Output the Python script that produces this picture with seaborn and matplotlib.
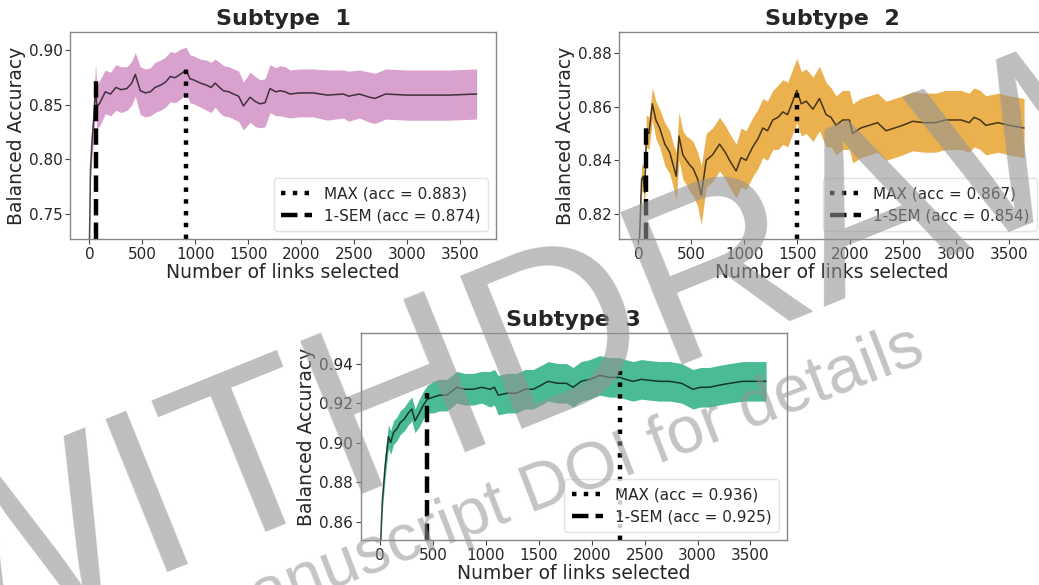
import numpy as np
import matplotlib
matplotlib.use("Agg")
import matplotlib.pyplot as plt
import seaborn as sns

# ---- data ----
# Subtype 1
x1 = [0, 10, 25, 40, 58, 70, 100, 150, 200, 250, 300, 355, 400, 434, 481, 530, 575, 620, 670, 720,
      764, 810, 858, 915, 950, 984, 1050, 1110, 1150, 1189, 1230, 1267, 1320, 1362, 1410, 1456, 1519, 1570, 1613, 1660,
      1707, 1760, 1802, 1850, 1896, 1990, 2116, 2250, 2400, 2450, 2550, 2650, 2700, 2800, 3000, 3200, 3400, 3660]
acc1 = [0.72, 0.79, 0.818, 0.835, 0.868, 0.848, 0.852, 0.862, 0.860, 0.866, 0.864, 0.865, 0.870, 0.878, 0.863, 0.861, 0.862, 0.866, 0.868, 0.871,
        0.876, 0.875, 0.878, 0.882, 0.874, 0.873, 0.870, 0.868, 0.866, 0.870, 0.866, 0.863, 0.862, 0.860, 0.858, 0.849, 0.857, 0.853, 0.851, 0.852,
        0.865, 0.862, 0.863, 0.862, 0.860, 0.861, 0.861, 0.859, 0.860, 0.858, 0.860, 0.857, 0.856, 0.860, 0.859, 0.859, 0.859, 0.860]
sd1 = [0.005, 0.01, 0.015, 0.018, 0.02, 0.02, 0.021, 0.02, 0.02, 0.021, 0.021, 0.02, 0.02, 0.02, 0.022, 0.022, 0.022, 0.023, 0.023, 0.023,
       0.023, 0.023, 0.023, 0.021, 0.022, 0.022, 0.022, 0.023, 0.023, 0.022, 0.023, 0.023, 0.023, 0.023, 0.023, 0.022, 0.023, 0.023, 0.022, 0.022,
       0.022, 0.022, 0.023, 0.023, 0.022, 0.022, 0.022, 0.023, 0.022, 0.023, 0.022, 0.023, 0.023, 0.023, 0.023, 0.023, 0.023, 0.023]

# Subtype 2
x2 = [0, 12, 30, 44, 60, 75, 100, 132, 165, 201, 250, 296, 330, 358, 384, 420, 453, 490, 516, 560,
      594, 641, 700, 767, 820, 861, 924, 970, 1018, 1081, 1130, 1176, 1220, 1270, 1320, 1365, 1410, 1459, 1497, 1540,
      1585, 1650, 1711, 1774, 1820, 1868, 1930, 1994, 2025, 2100, 2182, 2260, 2340, 2420, 2497, 2591, 2700, 2811, 2900, 2969,
      3050, 3126, 3173, 3230, 3283, 3400, 3503, 3645]
acc2 = [0.805, 0.813, 0.833, 0.834, 0.828, 0.851, 0.850, 0.861, 0.855, 0.852, 0.846, 0.843, 0.838, 0.834, 0.849, 0.842, 0.840, 0.838, 0.837, 0.833,
        0.827, 0.840, 0.842, 0.846, 0.843, 0.840, 0.836, 0.841, 0.840, 0.845, 0.848, 0.852, 0.851, 0.855, 0.856, 0.858, 0.857, 0.862, 0.866, 0.861,
        0.862, 0.859, 0.863, 0.857, 0.856, 0.853, 0.855, 0.855, 0.850, 0.852, 0.853, 0.854, 0.851, 0.852, 0.853, 0.8545, 0.854, 0.854, 0.855, 0.855,
        0.855, 0.854, 0.856, 0.855, 0.853, 0.854, 0.853, 0.852]
sd2 = [0.003, 0.004, 0.005, 0.005, 0.005, 0.006, 0.006, 0.006, 0.007, 0.007, 0.008, 0.008, 0.008, 0.009, 0.009, 0.009, 0.009, 0.010, 0.010, 0.010,
       0.011, 0.010, 0.010, 0.010, 0.010, 0.010, 0.010, 0.011, 0.011, 0.011, 0.011, 0.011, 0.011, 0.011, 0.012, 0.012, 0.012, 0.012, 0.012, 0.012,
       0.012, 0.012, 0.012, 0.012, 0.011, 0.011, 0.011, 0.011, 0.011, 0.011, 0.011, 0.011, 0.011, 0.011, 0.011, 0.011, 0.011, 0.011, 0.011, 0.011,
       0.011, 0.011, 0.011, 0.011, 0.011, 0.011, 0.011, 0.011]

# Subtype 3
x3 = [0, 6, 20, 47, 79, 100, 126, 160, 189, 230, 267, 300, 330, 370, 409, 447, 503, 560, 629, 680,
      723, 800, 881, 960, 1038, 1080, 1117, 1200, 1290, 1370, 1447, 1520, 1588, 1680, 1761, 1824, 1900, 1981, 2075, 2170,
      2264, 2320, 2390, 2470, 2547, 2640, 2736, 2850, 2956, 3030, 3113, 3200, 3302, 3428, 3648]
acc3 = [0.84, 0.851, 0.870, 0.888, 0.903, 0.900, 0.905, 0.907, 0.910, 0.912, 0.915, 0.917, 0.911, 0.915, 0.919, 0.922, 0.923, 0.924, 0.924, 0.926,
        0.928, 0.927, 0.927, 0.928, 0.927, 0.928, 0.924, 0.925, 0.925, 0.927, 0.927, 0.929, 0.931, 0.930, 0.930, 0.928, 0.931, 0.932, 0.934, 0.933,
        0.933, 0.932, 0.931, 0.932, 0.9315, 0.931, 0.931, 0.930, 0.927, 0.928, 0.928, 0.929, 0.930, 0.931, 0.931]
sd3 = [0.003, 0.004, 0.005, 0.006, 0.006, 0.006, 0.006, 0.006, 0.006, 0.006, 0.006, 0.006, 0.006, 0.007, 0.007, 0.007, 0.008, 0.008, 0.008, 0.008,
       0.008, 0.008, 0.008, 0.008, 0.009, 0.009, 0.010, 0.010, 0.010, 0.010, 0.010, 0.010, 0.010, 0.010, 0.010, 0.010, 0.010, 0.010, 0.010, 0.010,
       0.010, 0.010, 0.010, 0.010, 0.010, 0.010, 0.010, 0.010, 0.010, 0.010, 0.010, 0.010, 0.010, 0.010, 0.010]

# MAX / 1-SEM markers: (links, accuracy)
max_links = [915, 1497, 2264]
max_acc = [0.883, 0.867, 0.936]
sem_links = [60, 75, 447]
sem_acc = [0.874, 0.854, 0.925]

titles = ["Subtype  1", "Subtype  2", "Subtype  3"]
band_colors = ["#d9a1cd", "#ebb14f", "#4bba96"]
ylims = [(0.727, 0.917), (0.8107, 0.8878), (0.8507, 0.9555)]
yticks = [[0.75, 0.80, 0.85, 0.90], [0.82, 0.84, 0.86, 0.88], [0.86, 0.88, 0.90, 0.92, 0.94]]

sns.set_style("ticks")
plt.rcParams["font.family"] = ["DejaVu Sans"]

fig = plt.figure(figsize=(10.39, 5.85), dpi=100)
ax1 = fig.add_axes([0.0674, 0.5915, 0.410, 0.354])
ax2 = fig.add_axes([0.5958, 0.5915, 0.410, 0.354])
ax3 = fig.add_axes([0.3472, 0.0769, 0.410, 0.354])
axes = [ax1, ax2, ax3]

series = [(x1, acc1, sd1), (x2, acc2, sd2), (x3, acc3, sd3)]

for i, ax in enumerate(axes):
    x, acc, sd = series[i]
    x = np.array(x)
    acc = np.array(acc)
    sd = np.array(sd)
    ax.fill_between(x, acc - sd, acc + sd, color=band_colors[i], lw=0)
    sns.lineplot(x=x, y=acc, color="black", alpha=0.7, lw=1.1, ax=ax)
    y0 = ylims[i][0]
    ax.vlines(max_links[i], y0, max_acc[i], colors="black", linestyles=":", lw=3.2,
              label=f"MAX (acc = {max_acc[i]:.3f})")
    ax.vlines(sem_links[i], y0, sem_acc[i], colors="black", linestyles="--", lw=3.2,
              label=f"1-SEM (acc = {sem_acc[i]:.3f})")
    ax.set_xlim(-183, 3843)
    ax.set_ylim(*ylims[i])
    ax.set_xticks([0, 500, 1000, 1500, 2000, 2500, 3000, 3500])
    ax.set_yticks(yticks[i])
    ax.set_yticklabels([f"{t:.2f}" for t in yticks[i]])
    ax.tick_params(labelsize=11, length=3.5, width=0.8, color="#444444", pad=2)
    ax.set_xlabel("Number of links selected", fontsize=13.5, labelpad=1)
    ax.set_ylabel("Balanced Accuracy", fontsize=13.5, labelpad=2)
    ax.set_title(titles[i], fontsize=16, fontweight="bold", pad=5)
    for sp in ax.spines.values():
        sp.set_visible(True)
        sp.set_color("#888888")
        sp.set_linewidth(1.0)
    ax.legend(loc="lower right", fontsize=11, framealpha=0.8, edgecolor="#dddddd",
              fancybox=True, handlelength=2.0, borderpad=0.5)

# watermark
fig.text(0.59, 0.445, "WITHDRAWN", rotation=22, fontsize=172, color="#939393", alpha=0.6,
         family=["Liberation Sans Narrow", "Liberation Sans"], ha="center", va="center",
         rotation_mode="anchor", zorder=10)
fig.text(0.54, 0.175, "manuscript DOI for details", rotation=21, fontsize=48, color="#939393",
         alpha=0.55, family="Liberation Sans", ha="center", va="center", rotation_mode="anchor", zorder=10)

fig.savefig("out.png", dpi=100)
